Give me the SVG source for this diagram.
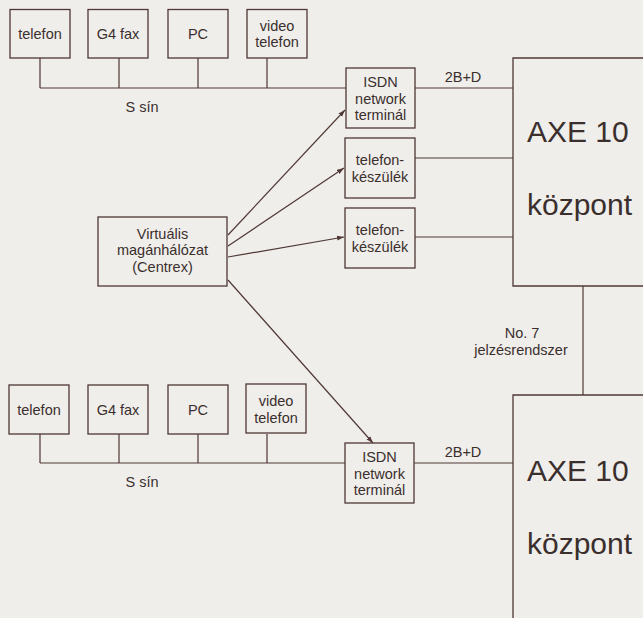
<svg xmlns="http://www.w3.org/2000/svg" width="643" height="618" viewBox="0 0 643 618">
<style>
  .box{fill:none;stroke:#4f3835;stroke-width:1.3}
  .ln{fill:none;stroke:#4f3835;stroke-width:1.2}
  .t{font-family:"Liberation Sans",Arial,sans-serif;font-size:14.5px;fill:#3b2f2e;text-anchor:middle}
  .big{font-family:"Liberation Sans",Arial,sans-serif;font-size:30px;fill:#3b2f2e}
</style>
<defs>
  <marker id="ah" viewBox="0 0 10 10" refX="10" refY="5" markerWidth="7" markerHeight="7" markerUnits="userSpaceOnUse" orient="auto">
    <path d="M0,1.5 L10,5 L0,8.5 z" fill="#4f3835"/>
  </marker>
</defs>
<rect x="0" y="0" width="643" height="618" fill="#efeeea"/>

<g id="connectors">
  <path class="ln" d="M40,58 V88 M119,58 V88 M198,58 V88 M267,58 V88 M40,88 H346"/>
  <path class="ln" d="M40,434 V463 M119,434 V463 M198,434 V463 M267,434 V463 M40,463 H345"/>
  <path class="ln" d="M415,88 H513 M415,158 H513 M415,237 H513 M414,463 H513"/>
  <path class="ln" d="M583,286 V395"/>
  <path class="ln" marker-end="url(#ah)" d="M228,235 L345,110"/>
  <path class="ln" marker-end="url(#ah)" d="M228,246 L344,168"/>
  <path class="ln" marker-end="url(#ah)" d="M228,257 L344,237"/>
  <path class="ln" marker-end="url(#ah)" d="M228,280 L373,443"/>
  <text class="t" x="142" y="112">S sín</text>
  <text class="t" x="142" y="487">S sín</text>
  <text class="t" x="463" y="82">2B+D</text>
  <text class="t" x="463" y="457">2B+D</text>
  <text class="t" x="522" y="338">No. 7</text>
  <text class="t" x="521" y="355">jelzésrendszer</text>
</g>

<g id="telefon1"><rect class="box" x="10" y="9.5" width="60" height="48.5"/><text class="t" x="40" y="39">telefon</text></g>
<g id="g4fax1"><rect class="box" x="88" y="9.5" width="60" height="48.5"/><text class="t" x="118" y="39">G4 fax</text></g>
<g id="pc1"><rect class="box" x="168" y="9.5" width="60" height="48.5"/><text class="t" x="198" y="39">PC</text></g>
<g id="video1"><rect class="box" x="247" y="9.5" width="60" height="48.5"/><text class="t" x="277" y="30.5">video</text><text class="t" x="277" y="47">telefon</text></g>

<g id="isdn1"><rect class="box" x="346" y="68" width="69" height="60"/><text class="t" x="380.5" y="87">ISDN</text><text class="t" x="380.5" y="103.5">network</text><text class="t" x="380.5" y="120">terminál</text></g>
<g id="keszulek1"><rect class="box" x="345" y="138" width="70" height="60"/><text class="t" x="380" y="165">telefon-</text><text class="t" x="380" y="182">készülék</text></g>
<g id="keszulek2"><rect class="box" x="345" y="208" width="70" height="60"/><text class="t" x="380" y="235">telefon-</text><text class="t" x="380" y="252">készülék</text></g>

<g id="virtualis"><rect class="box" x="98" y="217" width="129" height="69"/><text class="t" x="162.5" y="238.5">Virtuális</text><text class="t" x="162.5" y="255">magánhálózat</text><text class="t" x="162.5" y="271.5">(Centrex)</text></g>

<g id="axe1"><path class="box" d="M650,58 H513 V286 H650"/><text class="big" x="527" y="142">AXE 10</text><text class="big" x="527" y="215">központ</text></g>
<g id="axe2"><path class="box" d="M650,395 H513 V625"/><text class="big" x="527" y="481">AXE 10</text><text class="big" x="527" y="554">központ</text></g>

<g id="telefon2"><rect class="box" x="9" y="385" width="60" height="49"/><text class="t" x="39" y="414.5">telefon</text></g>
<g id="g4fax2"><rect class="box" x="88" y="385" width="60" height="49"/><text class="t" x="118" y="414.5">G4 fax</text></g>
<g id="pc2"><rect class="box" x="168" y="385" width="60" height="49"/><text class="t" x="198" y="414.5">PC</text></g>
<g id="video2"><rect class="box" x="246" y="384" width="60" height="49"/><text class="t" x="276" y="406">video</text><text class="t" x="276" y="423">telefon</text></g>

<g id="isdn2"><rect class="box" x="345" y="443" width="69" height="60"/><text class="t" x="379.5" y="462">ISDN</text><text class="t" x="379.5" y="478.5">network</text><text class="t" x="379.5" y="495">terminál</text></g>
</svg>
